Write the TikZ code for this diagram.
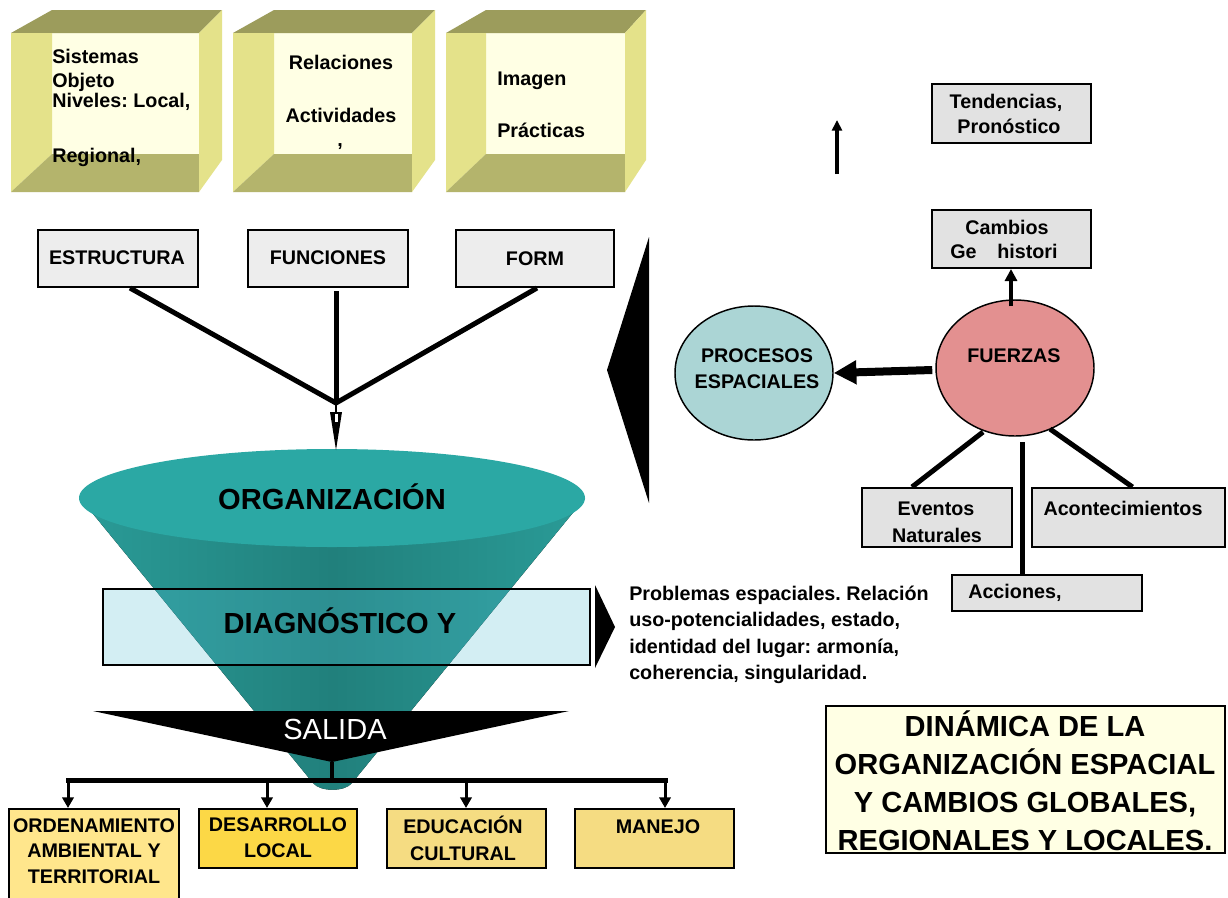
\documentclass[tikz,border=0pt]{standalone}
\usepackage{fontspec}
\setmainfont{Liberation Sans}
\usetikzlibrary{arrows.meta,shapes.geometric,fit,calc}
\definecolor{cubetop}{HTML}{9C9C5C}
\definecolor{cubebot}{HTML}{B4B46C}
\definecolor{cubeside}{HTML}{E4E28A}
\definecolor{cubeback}{HTML}{FFFFE4}
\definecolor{boxgray}{HTML}{EDEDED}
\definecolor{boxgraytwo}{HTML}{E2E2E2}
\definecolor{conedark}{HTML}{21807C}
\definecolor{conelight}{HTML}{2A9B97}
\definecolor{conetop}{HTML}{2BA8A4}
\definecolor{diagblue}{RGB}{81,189,210}
\definecolor{fuerza}{HTML}{E39090}
\definecolor{procesos}{HTML}{ABD5D5}
\definecolor{ordcol}{HTML}{FFE68C}
\definecolor{descol}{HTML}{FCD846}
\definecolor{educol}{HTML}{F5DC82}
\definecolor{titlecol}{HTML}{FFFFE4}
\newcommand{\mycube}[4]{%
 \fill[cubeback] (#2,33) rectangle (#3,154);
 \fill[cubetop] (#1,33) -- (#2,10) -- (#4,10) -- (#3,33) -- cycle;
 \fill[cubeside] (#1,33) -- (#2,33) -- (#2,154) -- (#1,192) -- cycle;
 \fill[cubebot] (#2,154) -- (#3,154) -- (#3,192) -- (#1,192) -- cycle;
 \fill[cubeside] (#3,33) -- (#4,10) -- (#4,160) -- (#3,192) -- cycle;
}
\begin{document}
\frenchspacing
\begin{tikzpicture}[x=0.75pt,y=-0.75pt,
 lbl/.style={font=\fontsize{14.8}{17}\selectfont\bfseries, inner sep=0pt, anchor=base},
 lblw/.style={lbl, anchor=base west},
 bigt/.style={font=\fontsize{21.8}{26}\selectfont\bfseries, inner sep=0pt, anchor=base},
 gbox/.style={draw, line width=1.5pt, fill=boxgray, inner sep=0pt},
 gboxtwo/.style={draw, line width=1.5pt, fill=boxgraytwo, inner sep=0pt},
 ybox/.style={draw, line width=1.5pt, inner sep=0pt},
 conn/.style={line width=3.75pt},
 downarr/.style={line width=2.25pt, -{Triangle[length=8pt,width=8.5pt]}},
 ell/.style={ellipse, draw, line width=1.1pt, inner sep=0pt}
]
\useasboundingbox (0,0) rectangle (1228,897);
\fill[white] (0,0) rectangle (1228,897);

% cubes
\mycube{11}{52}{199}{222}
\mycube{233}{274}{412}{435}
\mycube{446}{486}{625}{646}
\node[lblw] (c1a) at (52,63) {Sistemas};
\node[lblw] (c1b) at (52,87) {Objeto};
\node[lblw] (c1c) at (52,107) {Niveles: Local,};
\node[lblw] (c1d) at (52,162) {Regional,};
\node[lbl] (c2a) at (341,69) {Relaciones};
\node[lbl] (c2b) at (341,122) {Actividades};
\node[lbl] (c2c) at (340,146) {,};
\node[lblw] (c3a) at (497,85) {Imagen};
\node[lblw] (c3b) at (497,137) {Prácticas};

% top boxes
\node[gbox, fit={(38,230) (198,287)}] (estr) {};
\node[gbox, fit={(248,230) (408,287)}] (func) {};
\node[gbox, fit={(456,230) (614,287)}] (form) {};
\node[lbl] (estrt) at (117,264) {ESTRUCTURA};
\node[lbl] (funct) at (328,264) {FUNCIONES};
\node[lbl] (formt) at (535,265) {FORM};

% funnel
\fill[left color=conelight, right color=conelight, middle color=conedark]
  (80,498) -- (313,783) .. controls (320,792) and (345,792) .. (352,783) -- (585,498) -- cycle;
\fill[conetop] (332,498) ellipse [x radius=253, y radius=49];
\node[bigt] (org) at (332,509) {ORGANIZACIÓN};

% connectors into funnel
\coordinate (merge) at (336,403);
\coordinate (hbase) at (336,412);
\coordinate (ftop) at (336,450);
\draw[conn] ([xshift=9pt]estr.south) -- (merge);
\draw[conn] ([xshift=1.5pt]form.south) -- (merge);
\draw[conn] ([xshift=6pt,yshift=-2.25pt]func.south) -- (merge);
\draw[line width=2pt] (merge) -- (hbase);
\fill ($(hbase)+(-6,0)$) -- ($(hbase)+(6,0)$) -- (ftop) -- cycle;
\fill[white] ($(hbase)+(-1.5,1.5)$) rectangle ($(hbase)+(1.5,10)$);

% diagnostico
\node[fit={(103,589) (590,665)}, inner sep=0pt, fill=diagblue, fill opacity=0.25, draw, line width=1.5pt] (diag) {};
\node[bigt] (diagt) at (340,633) {DIAGNÓSTICO Y};
\fill (595,585) -- (615,627) -- (595,668) -- cycle;

% salida
\fill (93,711) -- (569,711) -- (332,762) -- cycle;
\node[font=\fontsize{21.8}{26}\selectfont, text=white, inner sep=0pt, anchor=base] (sal) at (335,739) {SALIDA};

% bottom boxes
\node[ybox, fill=ordcol, fit={(9,809) (179,900)}] (ord) {};
\node[ybox, fill=descol, fit={(199,809) (357,868)}] (des) {};
\node[ybox, fill=educol, fit={(387,809) (546,868)}] (edu) {};
\node[ybox, fill=educol, fit={(575,809) (734,868)}] (man) {};
\node[lbl] (o1) at (94,832) {ORDENAMIENTO};
\node[lbl] (o2) at (94,857) {AMBIENTAL Y};
\node[lbl] (o3) at (94,883) {TERRITORIAL};
\node[lbl] (d1) at (278,831) {DESARROLLO};
\node[lbl] (d2) at (278,857) {LOCAL};
\node[lbl] (e1) at (463,833) {EDUCACIÓN};
\node[lbl] (e2) at (463,860) {CULTURAL};
\node[lbl] (m1) at (658,833) {MANEJO};

% output bar
\coordinate (stip) at (332,762);
\coordinate (bmid) at (332,780);
\coordinate (b1) at (68,780);
\coordinate (b2) at (267,780);
\coordinate (b3) at (466,780);
\coordinate (b4) at (665,780);
\draw[line width=2.5pt] (stip) -- (bmid);
\draw[line width=3.75pt, line cap=rect] (b1) -- (b4);
\draw[downarr] (b1) -- (b1 |- ord.north);
\draw[downarr] (b2) -- (b2 |- des.north);
\draw[downarr] (b3) -- (b3 |- edu.north);
\draw[downarr] (b4) -- (b4 |- man.north);

% big wedge
\fill (649,237) -- (649,503) -- (607,370) -- cycle;

% right side
\node[gboxtwo, fit={(932,84) (1091,143)}] (tend) {};
\node[lbl] (tend1) at (1006,108) {Tendencias,};
\node[lbl] (tend2) at (1009,133) {Pronóstico};
\coordinate (up1) at (837,174);
\coordinate (up2) at (837,120);
\draw[line width=2.5pt, -{Triangle[length=8pt,width=7.5pt]}] (up1) -- (up2);

\node[gboxtwo, fit={(932,210) (1091,268)}] (camb) {};
\node[lbl] (camb1) at (1007,234) {Cambios};
\node[lblw] (camb2) at (950,258) {Ge\hspace{15.5pt}histori};

\node[ell, fill=fuerza, minimum width=118.5pt, minimum height=102pt] (fz) at (1015,368) {};
\node[lbl] (fzt) at (1014,362) {FUERZAS};
\node[ell, fill=procesos, minimum width=118.5pt, minimum height=100.5pt] (pe) at (754,373) {};
\node[lbl] (pe1) at (757,362) {PROCESOS};
\node[lbl] (pe2) at (757,388) {ESPACIALES};

\draw[line width=6pt, -{Triangle[length=17pt,width=17pt]}] ([xshift=-2.25pt,yshift=-1.5pt]fz.west) -- (pe.east);
\coordinate (fzn) at ([xshift=-3pt,yshift=-5.25pt]fz.north);
\draw[line width=3pt, -{Triangle[length=9pt,width=9pt]}] (fzn) -- (fzn |- camb.south);

\node[gboxtwo, fit={(862,488) (1012,547)}] (ev) {};
\node[gboxtwo, fit={(1032,488) (1225,547)}] (act) {};
\node[gboxtwo, fit={(952,575) (1142,611)}] (acc) {};
\node[lbl] (ev1) at (936,515) {Eventos};
\node[lbl] (ev2) at (937,542) {Naturales};
\node[lbl] (act1) at (1123,515) {Acontecimientos};
\node[lblw] (acc1) at (968,598) {Acciones,};
\draw[conn] ($(fz.center)+(-32,64)$) -- ($(ev.north)+(-25,0)$);
\draw[conn] ($(fz.center)+(35,61)$) -- ($(act.north)+(4,0)$);
\draw[conn] ($(fz.center)+(7,74)$) -- ($(acc.north)+(-25,0)$);

% problemas text
\node[lblw] (p1) at (629,600) {Problemas espaciales. Relación};
\node[lblw] (p2) at (629,626.5) {uso-potencialidades, estado,};
\node[lblw] (p3) at (629,653) {identidad del lugar: armonía,};
\node[lblw] (p4) at (629,679.5) {coherencia, singularidad.};

% title
\node[fit={(826,706) (1225,853)}, draw, line width=1.5pt, fill=titlecol, inner sep=0pt] (title) {};
\node[bigt] (ti1) at (1025,736) {DINÁMICA DE LA};
\node[bigt] (ti2) at (1025,774) {ORGANIZACIÓN ESPACIAL};
\node[bigt] (ti3) at (1025,812) {Y CAMBIOS GLOBALES,};
\node[bigt] (ti4) at (1025,850) {REGIONALES Y LOCALES.};
\end{tikzpicture}
\end{document}
